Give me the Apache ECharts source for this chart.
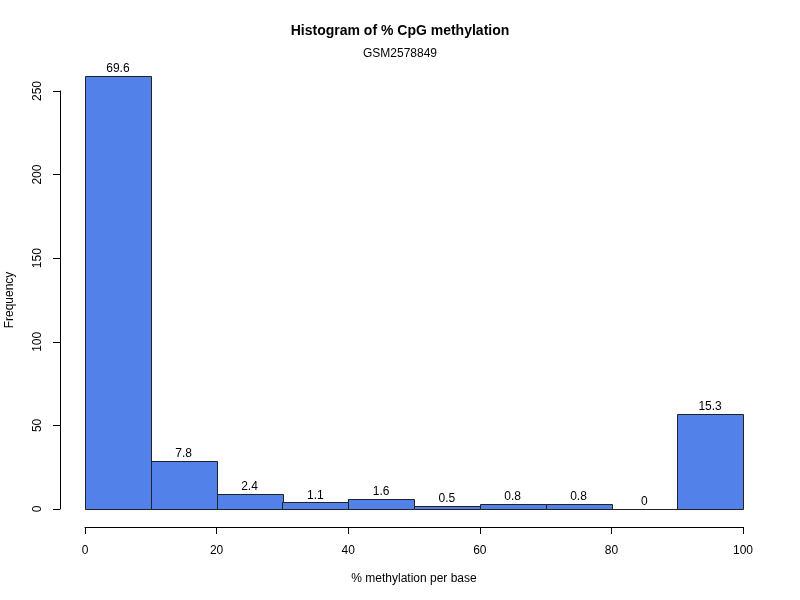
<!DOCTYPE html>
<html><head><meta charset="utf-8">
<script src="https://cdn.jsdelivr.net/npm/echarts@6/dist/echarts.min.js"></script>
<style>html,body{margin:0;padding:0;background:#fff}#c{width:800px;height:600px}</style>
</head><body><div id="c"></div>
<script>
const binStarts = [0,10,20,30,40,50,60,70,80,90];
const binEnds = [10,20,30,40,50,60,70,80,90,100];
const counts = [259,29,9,4,6,2,3,3,0,57];
const percentLabels = ['69.6','7.8','2.4','1.1','1.6','0.5','0.8','0.8','0','15.3'];
const xTicks = [0,20,40,60,80,100];
const yTicks = [0,50,100,150,200,250];

const data = binStarts.map((s,i)=>[s, binEnds[i], counts[i], percentLabels[i]]);
const font = 'Liberation Sans, Arial, sans-serif';
const chart = echarts.init(document.getElementById('c'));
chart.setOption({
  animation:false,
  title:[{text:'Histogram of % CpG methylation', left:'center', top:19, textStyle:{fontFamily:font,fontSize:14,fontWeight:'bold',color:'#000'}},
         {text:'GSM2578849', left:'center', top:43, textStyle:{fontFamily:font,fontSize:12,fontWeight:'normal',color:'#000'}}],
  grid:{left:85,right:57,top:91,bottom:91,containLabel:false,outerBoundsMode:'none'},
  xAxis:{type:'value',min:0,max:100,interval:20,offset:18,
    splitLine:{show:false},
    axisLine:{onZero:false,lineStyle:{color:'#000'}},
    axisTick:{length:7,lineStyle:{color:'#000'}},
    axisLabel:{fontFamily:font,fontSize:12,color:'#000',margin:18,formatter:v=>xTicks.includes(v)?String(v):''},
    name:'% methylation per base',nameLocation:'middle',nameGap:46,
    nameTextStyle:{fontFamily:font,fontSize:12,color:'#000'}},
  yAxis:{type:'value',min:0,max:250,interval:50,offset:25,
    splitLine:{show:false},
    axisLine:{show:true,onZero:false,lineStyle:{color:'#000'}},
    axisTick:{show:true,length:7,lineStyle:{color:'#000'}},
    axisLabel:{fontFamily:font,fontSize:12,color:'#000',rotate:90,margin:16,formatter:v=>yTicks.includes(v)?String(v):''},
    name:'Frequency',nameLocation:'middle',nameGap:44,
    nameTextStyle:{fontFamily:font,fontSize:12,color:'#000'}},
  series:[{type:'custom',clip:false,data:data,
    renderItem:function(params,api){
      const p0 = api.coord([api.value(0), api.value(2)]);
      const p1 = api.coord([api.value(1), 0]);
      return {type:'group',children:[
        {type:'rect',shape:{x:Math.round(p0[0])+0.5,y:Math.round(p0[1])+0.5,width:Math.round(p1[0]-p0[0]),height:Math.round(p1[1]-p0[1])},
         style:{fill:'#5181E9',stroke:'#222',lineWidth:1}},
        {type:'text',x:(p0[0]+p1[0])/2,y:p0[1]-1,
         style:{text:data[params.dataIndex][3],fontFamily:font,fontSize:12,fill:'#000',align:'center',verticalAlign:'bottom'}}
      ]};
    }}]
});
</script></body></html>
